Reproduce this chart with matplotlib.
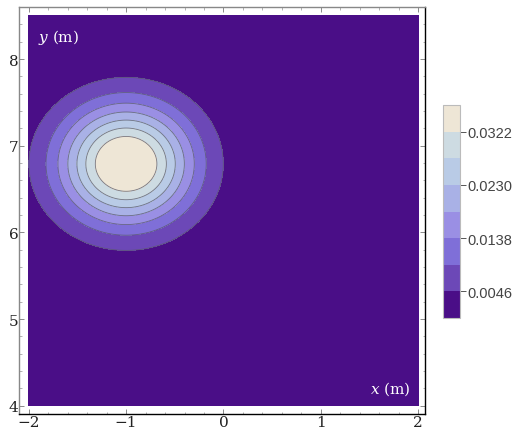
import numpy as np
import matplotlib as mpl
mpl.use('Agg')
import matplotlib.pyplot as plt
from matplotlib.ticker import MultipleLocator

# gaussian bump
center_x = -1.0
center_y = 6.79
peak = 0.040
width = 0.48

x_range = (-2.0, 2.0)
y_range = (4.0, 8.5)

levels = [0.0, 0.0046, 0.0092, 0.0138, 0.0184, 0.0230, 0.0276, 0.0322, 0.0400]
band_colors = ['#4a0e87', '#6c48b7', '#7f6fd8', '#9a8fe4', '#a9b1e6',
               '#b9cbe6', '#cddbe2', '#eee6d6']
cbar_ticks = [0.0046, 0.0138, 0.0230, 0.0322]

x = np.linspace(x_range[0], x_range[1], 500)
y = np.linspace(y_range[0], y_range[1], 560)
X, Y = np.meshgrid(x, y)
Z = peak * np.exp(-((X - center_x)**2 + (Y - center_y)**2) / (2 * width**2))

fig = plt.figure(figsize=(5.21, 4.31), dpi=100)
ax = fig.add_axes([19/521, 16/431, 406/521, 407/431])

cf = ax.contourf(X, Y, Z, levels=levels, colors=band_colors)
ax.contour(X, Y, Z, levels=levels[1:-1], colors='#5a5a6a', linewidths=0.6, alpha=0.8)

ax.set_xlim(-2.10, 2.07)
ax.set_ylim(3.904, 8.60)
ax.set_xticks([-2, -1, 0, 1, 2])
ax.set_yticks([4, 5, 6, 7, 8])
ax.xaxis.set_minor_locator(MultipleLocator(0.2))
ax.yaxis.set_minor_locator(MultipleLocator(0.2))
ax.tick_params(which='both', direction='in', top=True, right=True, colors='#777777',
               labelcolor='#222222', labelsize=11, pad=0.5)
ax.tick_params(which='major', length=3.5, width=0.6)
ax.tick_params(which='minor', length=1.8, width=0.4)
ax.xaxis.set_major_formatter(mpl.ticker.FuncFormatter(lambda v, p: f'{int(v)}'.replace('-', '\u2212')))
for lab in ax.get_xticklabels() + ax.get_yticklabels():
    lab.set_fontfamily('DejaVu Serif')

ax.spines['left'].set_color('#888888')
ax.spines['top'].set_color('#888888')
ax.spines['bottom'].set_color('black')
ax.spines['right'].set_color('black')
for s in ax.spines.values():
    s.set_linewidth(1.0)

ax.text(-1.9, 8.26, r'$y$ (m)', color='white', fontsize=11, family='DejaVu Serif',
        ha='left', va='center', math_fontfamily='dejavuserif')
ax.text(1.92, 4.2, r'$x$ (m)', color='white', fontsize=11, family='DejaVu Serif',
        ha='right', va='center', math_fontfamily='dejavuserif')

cax = fig.add_axes([443/521, 112/431, 17/521, 213/431])
cb = fig.colorbar(cf, cax=cax, ticks=cbar_ticks)
cb.ax.set_yticklabels([f'{t:.4f}' for t in cbar_ticks])
cb.ax.tick_params(length=4, width=0.7, colors='#555555', labelcolor='#444444',
                  labelsize=10.5, pad=1)
for lab in cb.ax.get_yticklabels():
    lab.set_fontfamily('Liberation Sans')
cb.outline.set_edgecolor('#bbbbbb')
cb.outline.set_linewidth(0.8)

fig.savefig('out.png', dpi=100)
